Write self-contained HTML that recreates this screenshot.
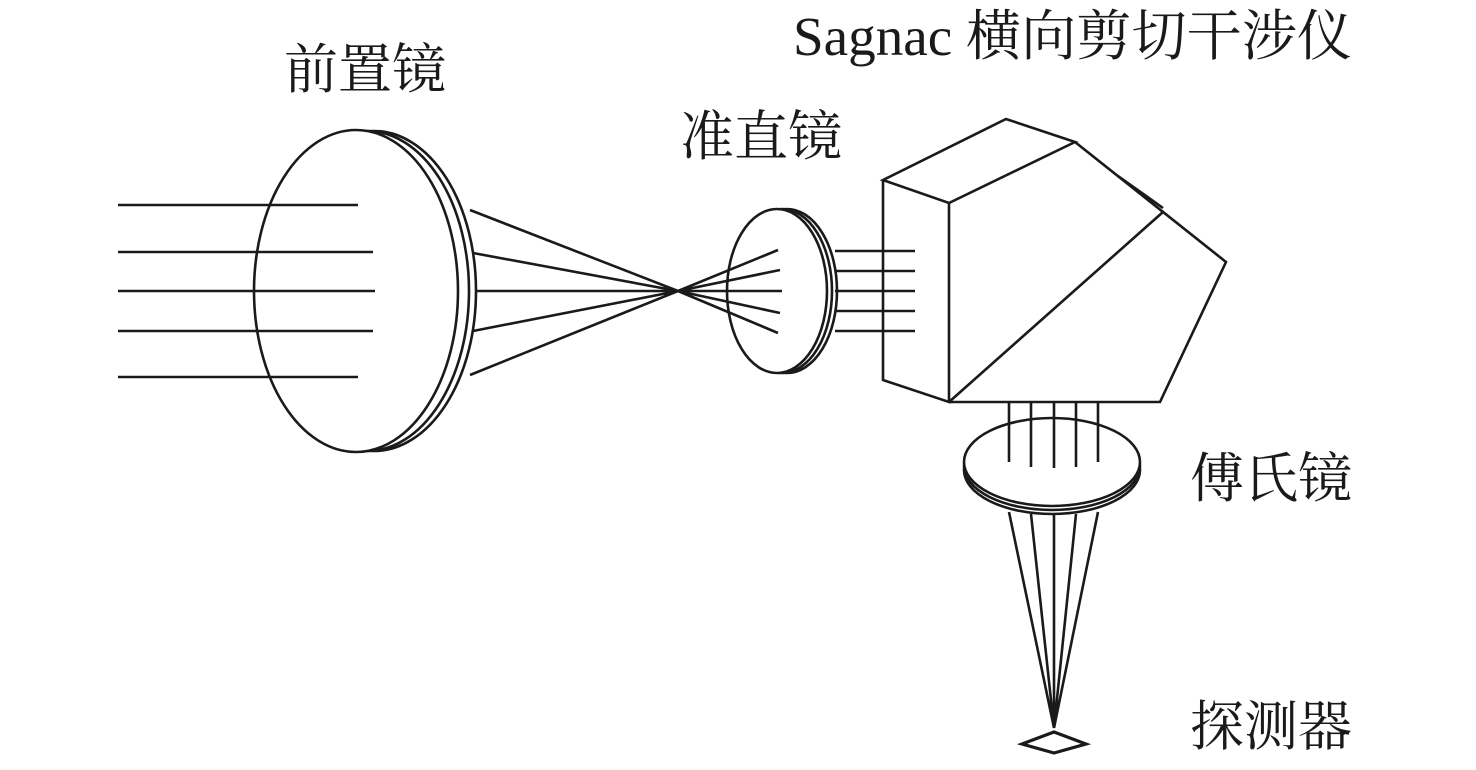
<!DOCTYPE html>
<html><head><meta charset="utf-8"><style>
html,body{margin:0;padding:0;background:#fff;}
svg{display:block}
text{font-family:"Liberation Serif","Noto Serif CJK SC",serif;fill:#1a1a1a;}
</style></head><body>
<svg width="1476" height="770" viewBox="0 0 1476 770" xmlns="http://www.w3.org/2000/svg">
<g stroke="#1a1a1a" fill="none" stroke-width="2.6">
<!-- front lens -->
<ellipse cx="374" cy="291" rx="102" ry="160"/>
<ellipse cx="367" cy="291" rx="102" ry="160"/>
<ellipse cx="356" cy="291" rx="102" ry="161" fill="#fff"/>
<path d="M118 205H358M118 252H373M118 291H375M118 331H373M118 377H358"/>
<path d="M470 210L678 291M473 253L678 291M476 291H678M473 331L678 291M470 375L678 291"/>
<!-- collimator -->
<ellipse cx="787" cy="291" rx="50" ry="82"/>
<ellipse cx="782" cy="291" rx="50" ry="82"/>
<ellipse cx="777" cy="291" rx="50" ry="82" fill="#fff"/>
<path d="M678 291L778 250M678 291L780 270M678 291H782M678 291L780 313M678 291L778 333"/>
<path d="M835 251H915M835 271H915M835 291H915M835 311H915M835 331H915"/>
<!-- prism -->
<path d="M883 180L1006 119L1075 142L949 203Z" fill="#fff"/>
<path d="M883 180V380L949 402V203"/>
<path d="M1075 142L1226 262L1160 402H949"/>
<path d="M949 402L1163 212"/>
<path d="M1118 176L1163 208"/>
<!-- fourier lens -->
<ellipse cx="1052" cy="470" rx="88" ry="44"/>
<ellipse cx="1052" cy="466" rx="88" ry="44"/>
<ellipse cx="1052" cy="462" rx="88" ry="44" fill="#fff"/>
<path d="M1009 402V462M1031 402V467M1054 402V468M1076 402V467M1098 402V462"/>
<path d="M1009 512L1054 728M1031 514L1054 728M1054 515V728M1076 514L1054 728M1098 512L1054 728"/>
<path d="M1022 744L1054 732L1086 744L1054 753Z" stroke-width="3.2"/>
</g>
<text x="284" y="88" font-size="54">前置镜</text>
<text x="680" y="155" font-size="54">准直镜</text>
<text x="793" y="55" font-size="55" textLength="559" lengthAdjust="spacingAndGlyphs">Sagnac 横向剪切干涉仪</text>
<text x="1190" y="497" font-size="54">傅氏镜</text>
<text x="1190" y="745" font-size="54">探测器</text>
</svg>
</body></html>
